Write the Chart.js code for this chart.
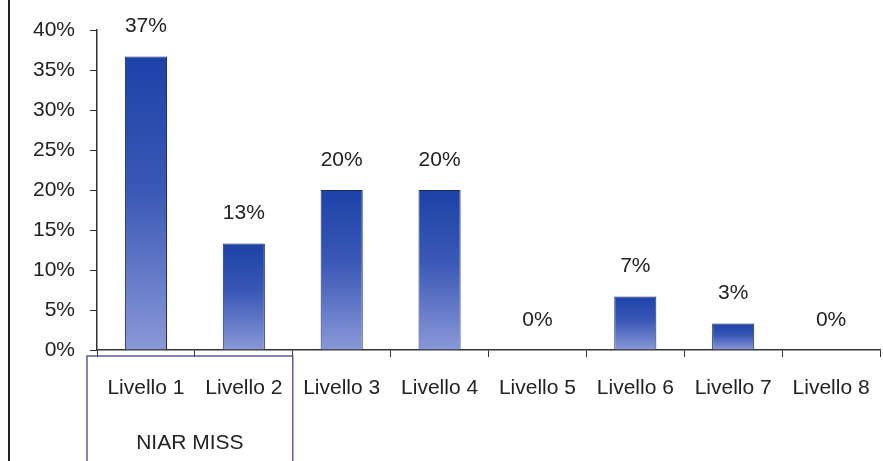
<!DOCTYPE html>
<html>
<head>
<meta charset="utf-8">
<script src="https://cdn.jsdelivr.net/npm/chart.js@4/dist/chart.umd.min.js"></script>
<style>
  html, body { margin: 0; padding: 0; background: #fff; }
  #wrap { width: 883px; height: 461px; position: relative; }
</style>
</head>
<body>
<div id="wrap"><canvas id="livelli"></canvas></div>
<script>
const labels = ['Livello 1', 'Livello 2', 'Livello 3', 'Livello 4', 'Livello 5', 'Livello 6', 'Livello 7', 'Livello 8'];
const percent = [36.7, 13.3, 20, 20, 0, 6.7, 3.3, 0];
const yTicks = [0, 5, 10, 15, 20, 25, 30, 35, 40];
const groupName = 'NIAR MISS';

const FONT = '"Liberation Sans", Arial, sans-serif';
const FSIZE = 21;

// labels above bars, the NIAR MISS box and the left frame line
const extras = {
    id: 'extras',
    afterDatasetsDraw(chart) {
        const ctx = chart.ctx;
        const meta = chart.getDatasetMeta(0);
        ctx.save();
        ctx.fillStyle = '#222';
        ctx.font = FSIZE + 'px ' + FONT;
        ctx.textAlign = 'center';
        ctx.textBaseline = 'middle';
        meta.data.forEach((bar, i) => {
            ctx.fillText(Math.round(percent[i]) + '%', bar.x, bar.y - 30);
        });

        const x = chart.scales.x;
        const half = (x.getPixelForValue(1) - x.getPixelForValue(0)) / 2;
        const right = x.getPixelForValue(1) + half;
        const left = x.left - 10;
        ctx.strokeStyle = '#5c5ca8';
        ctx.lineWidth = 1.5;
        ctx.beginPath();
        ctx.moveTo(left, 470);
        ctx.lineTo(left, 356);
        ctx.lineTo(right, 356);
        ctx.lineTo(right, 470);
        ctx.stroke();
        ctx.fillText(groupName, (left + right) / 2, 443);

        ctx.strokeStyle = '#222';
        ctx.lineWidth = 2;
        ctx.beginPath();
        ctx.moveTo(9, 0);
        ctx.lineTo(9, 461);
        ctx.stroke();
        ctx.restore();
    }
};

new Chart(document.getElementById('livelli').getContext('2d'), {
    type: 'bar',
    data: {
        labels: labels,
        datasets: [{
            data: percent,
            backgroundColor: function (c) {
                const chart = c.chart;
                if (!chart.chartArea) return '#3550b0';
                const y = chart.scales.y;
                const top = y.getPixelForValue(c.raw);
                const bottom = y.getPixelForValue(0);
                if (bottom - top < 1) return '#3550b0';
                const g = chart.ctx.createLinearGradient(0, top, 0, bottom);
                g.addColorStop(0, '#1c42a8');
                g.addColorStop(0.45, '#3a58b6');
                g.addColorStop(1, '#8a98d8');
                return g;
            },
            borderColor: '#1a2660',
            borderWidth: c => (c.raw > 0 ? 1 : 0),
            barPercentage: 0.43,
            categoryPercentage: 1
        }]
    },
    options: {
        responsive: true,
        maintainAspectRatio: false,
        animation: false,
        layout: { padding: { left: 0, right: 3, top: 30, bottom: 0 } },
        plugins: {
            legend: { display: false },
            tooltip: { enabled: false }
        },
        scales: {
            x: {
                afterFit: s => { s.height = 111; s.paddingLeft = 0; s.paddingRight = 0; },
                grid: { drawOnChartArea: false, tickLength: 7, color: '#333' },
                border: { color: '#333', width: 1.5 },
                ticks: { color: '#222', font: { family: FONT, size: FSIZE }, padding: 19, maxRotation: 0, autoSkip: false }
            },
            y: {
                min: 0,
                max: 40,
                afterFit: s => { s.width = 97; s.paddingTop = 0; s.paddingBottom = 0; },
                afterBuildTicks: s => { s.ticks = yTicks.map(v => ({ value: v })); },
                grid: { drawOnChartArea: false, tickLength: 7, color: '#333' },
                border: { color: '#333', width: 1.5 },
                ticks: { color: '#222', font: { family: FONT, size: FSIZE }, padding: 15, callback: v => v + '%' }
            }
        }
    },
    plugins: [extras]
});
</script>
</body>
</html>
